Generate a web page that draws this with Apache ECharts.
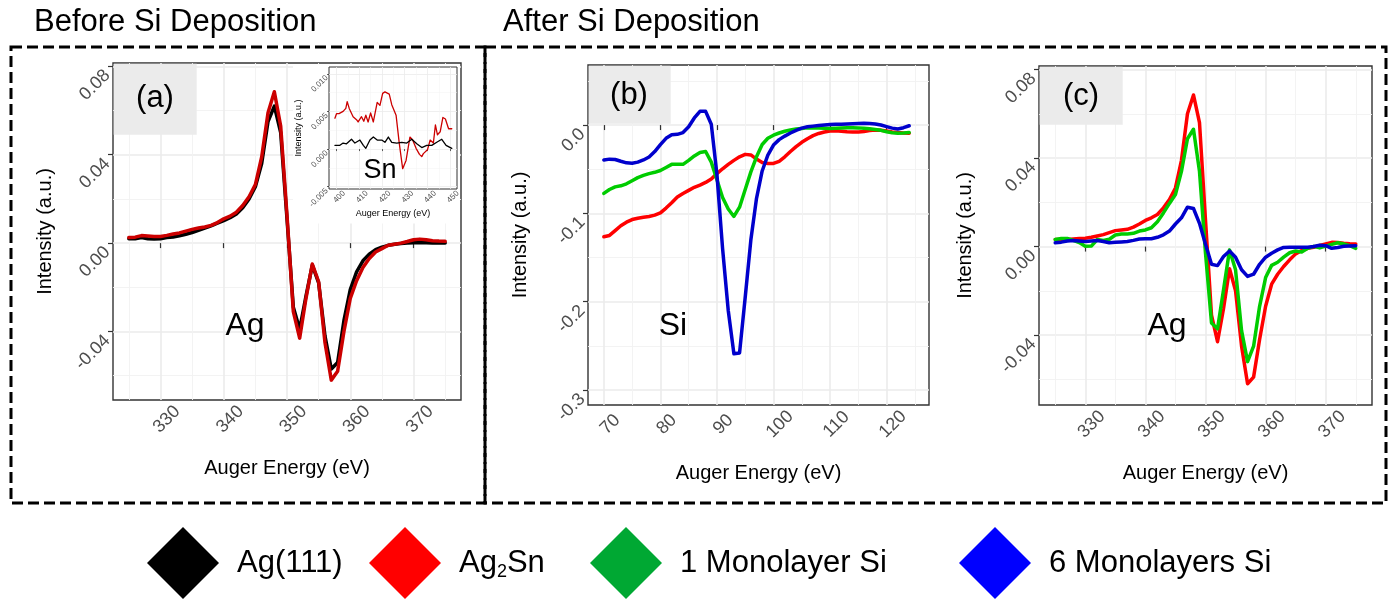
<!DOCTYPE html>
<html>
<head>
<meta charset="utf-8">
<script src="https://cdn.jsdelivr.net/npm/echarts@6/dist/echarts.min.js"></script>
<style>html,body{margin:0;padding:0;background:#fff;}#chart{width:1398px;height:600px;}</style>
</head>
<body>
<div id="chart"></div>
<script>
// ---------- DATA ----------
const energyAg = [325,326,327,328,329,330,331,332,333,334,335,336,337,338,339,340,341,342,343,344,345,346,347,348,349,350,351,352,353,354,355,356,357,358,359,360,361,362,363,364,365,366,367,368,369,370,371,372,373,374,375];
// panel (a)
const aAg111 = [0.0020,0.0020,0.0025,0.0020,0.0019,0.0020,0.0025,0.0028,0.0033,0.0040,0.0048,0.0058,0.0068,0.0078,0.0090,0.0102,0.0115,0.0132,0.0160,0.0200,0.0255,0.0360,0.0550,0.0620,0.0500,0.0110,-0.0290,-0.0390,-0.0240,-0.0100,-0.0180,-0.0420,-0.0570,-0.0540,-0.0350,-0.0210,-0.0130,-0.0080,-0.0050,-0.0030,-0.0018,-0.0010,-0.0005,-0.0002,0.0000,0.0002,0.0003,0.0002,0.0001,0.0000,0.0000];
const aAg2Sn = [0.0025,0.0027,0.0034,0.0032,0.0030,0.0030,0.0035,0.0041,0.0046,0.0054,0.0062,0.0068,0.0073,0.0080,0.0093,0.0110,0.0122,0.0140,0.0170,0.0210,0.0265,0.0390,0.0590,0.0685,0.0530,0.0125,-0.0310,-0.0430,-0.0250,-0.0095,-0.0175,-0.0450,-0.0620,-0.0580,-0.0400,-0.0250,-0.0170,-0.0110,-0.0070,-0.0040,-0.0025,-0.0010,-0.0005,0.0000,0.0007,0.0015,0.0018,0.0015,0.0011,0.0009,0.0008];
// inset (Sn)
const snEnergyAg2Sn = [399.3,400,401.1,402.9,404.1,404.7,405.6,407.3,408.8,409.5,411,412,412.9,413.9,415,416.2,417.9,419.1,420.3,421.3,423.2,424.3,426.2,427.6,429.1,430.6,432.3,433.5,435,436.5,437.5,438.2,440,441.2,442.6,443.5,444.4,445.6,446.8,447.9,449.3,450.7];
const snAg2Sn = [0.0041,0.0047,0.0047,0.0050,0.0054,0.0063,0.0054,0.0043,0.0039,0.0036,0.0043,0.0037,0.0045,0.0036,0.0048,0.0036,0.0062,0.0058,0.0074,0.0076,0.0073,0.0059,0.0045,0.0008,-0.0026,-0.0015,0.0016,0.0012,0.0001,-0.0007,-0.0010,-0.0006,-0.0001,0.0012,0.0008,0.0032,0.0019,0.0023,0.0042,0.0040,0.0027,0.0027];
const snEnergyAg111 = [399.3,401.5,402.9,404.4,406.6,408.1,410.3,411.8,412.9,414.7,416.2,417.9,419.9,421.3,422.8,424.3,426.5,428.7,430.9,433.1,435.3,437.5,439.7,441.9,444.1,446.3,448.2,450.7];
const snAg111 = [0.0005,0.0005,0.0008,0.0007,0.0013,0.0008,0.0012,0.0005,0.0001,0.0012,0.0016,0.0012,0.0012,0.0009,0.0016,0.0009,0.0008,0.0009,0.0008,0.0013,0.0007,0.0002,0.0005,0.0005,0.0009,0.0013,0.0005,0.0001];
// panel (b)
const energySi = [70,71,72,73,74,75,76,77,78,79,80,81,82,83,84,85,86,87,88,89,90,91,92,93,94,95,96,97,98,99,100,101,102,103,104,105,106,107,108,109,110,111,112,113,114,115,116,117,118,119,120,121,122,123,124];
const bAg2Sn = [-0.1265,-0.1250,-0.1195,-0.1140,-0.1100,-0.1070,-0.1055,-0.1045,-0.1035,-0.1020,-0.0995,-0.0940,-0.0880,-0.0815,-0.0775,-0.0740,-0.0705,-0.0680,-0.0650,-0.0610,-0.0550,-0.0495,-0.0445,-0.0400,-0.0360,-0.0332,-0.0338,-0.0385,-0.0425,-0.0435,-0.0435,-0.0410,-0.0360,-0.0300,-0.0245,-0.0195,-0.0155,-0.0120,-0.0095,-0.0078,-0.0068,-0.0065,-0.0070,-0.0076,-0.0079,-0.0078,-0.0072,-0.0062,-0.0057,-0.0060,-0.0068,-0.0078,-0.0085,-0.0090,-0.0093];
const b1ML = [-0.0774,-0.0730,-0.0700,-0.0688,-0.0665,-0.0630,-0.0595,-0.0570,-0.0550,-0.0535,-0.0515,-0.0480,-0.0445,-0.0445,-0.0445,-0.0400,-0.0350,-0.0310,-0.0300,-0.0420,-0.0620,-0.0820,-0.0950,-0.1035,-0.0930,-0.0730,-0.0530,-0.0360,-0.0220,-0.0150,-0.0115,-0.0090,-0.0070,-0.0056,-0.0045,-0.0038,-0.0032,-0.0030,-0.0032,-0.0035,-0.0038,-0.0036,-0.0033,-0.0031,-0.0030,-0.0032,-0.0036,-0.0042,-0.0050,-0.0060,-0.0075,-0.0088,-0.0093,-0.0090,-0.0085];
const b6ML = [-0.0396,-0.0386,-0.0390,-0.0410,-0.0428,-0.0432,-0.0420,-0.0395,-0.0362,-0.0300,-0.0222,-0.0150,-0.0110,-0.0105,-0.0085,-0.0020,0.0080,0.0155,0.0155,0.0010,-0.0560,-0.1400,-0.2100,-0.2590,-0.2580,-0.1950,-0.1300,-0.0830,-0.0520,-0.0340,-0.0227,-0.0165,-0.0125,-0.0090,-0.0060,-0.0035,-0.0020,-0.0012,-0.0005,0.0000,0.0005,0.0008,0.0010,0.0013,0.0015,0.0017,0.0019,0.0018,0.0012,0.0000,-0.0018,-0.0035,-0.0045,-0.0030,-0.0008];
// panel (c)
const cAg2Sn = [0.0032,0.0032,0.0032,0.0034,0.0036,0.0038,0.0042,0.0048,0.0054,0.0063,0.0072,0.0075,0.0078,0.0088,0.0102,0.0118,0.0130,0.0145,0.0175,0.0212,0.0265,0.0390,0.0600,0.0685,0.0560,0.0120,-0.0310,-0.0430,-0.0280,-0.0100,-0.0200,-0.0450,-0.0620,-0.0590,-0.0420,-0.0270,-0.0170,-0.0125,-0.0090,-0.0060,-0.0033,-0.0018,-0.0008,-0.0003,0.0005,0.0012,0.0019,0.0018,0.0015,0.0013,0.0012];
const c1ML = [0.0032,0.0036,0.0037,0.0028,0.0018,0.0001,0.0002,0.0032,0.0028,0.0033,0.0052,0.0057,0.0057,0.0060,0.0070,0.0075,0.0085,0.0112,0.0152,0.0195,0.0235,0.0340,0.0487,0.0530,0.0340,-0.0030,-0.0345,-0.0372,-0.0195,-0.0015,-0.0105,-0.0380,-0.0520,-0.0450,-0.0270,-0.0140,-0.0085,-0.0071,-0.0048,-0.0028,-0.0020,-0.0025,-0.0008,0.0001,-0.0006,0.0002,0.0010,0.0017,0.0012,0.0004,-0.0008];
const c6ML = [0.0017,0.0020,0.0025,0.0027,0.0025,0.0023,0.0025,0.0027,0.0023,0.0017,0.0019,0.0021,0.0023,0.0028,0.0034,0.0035,0.0035,0.0042,0.0053,0.0070,0.0102,0.0130,0.0178,0.0172,0.0105,0.0010,-0.0080,-0.0086,-0.0045,-0.0020,-0.0048,-0.0105,-0.0135,-0.0125,-0.0080,-0.0048,-0.0030,-0.0015,-0.0004,-0.0003,-0.0003,-0.0003,-0.0003,0.0000,0.0006,0.0004,-0.0008,-0.0004,0.0001,0.0003,0.0004];
// tick labels
const agTicksX = [330,340,350,360,370];
const agTicksY = [-0.04,0.00,0.04,0.08];
const agMinorX = [325,335,345,355,365,375];
const agMinorY = [-0.06,-0.02,0.02,0.06];
const siTicksX = [70,80,90,100,110,120];
const siTicksY = [-0.3,-0.2,-0.1,0.0];
const siMinorX = [75,85,95,105,115,125];
const siMinorY = [-0.25,-0.15,-0.05,0.05];
const snTicksX = [400,410,420,430,440,450];
const snTicksY = [-0.005,0.000,0.005,0.010];
const snMinorX = [405,415,425,435,445];
const snMinorY = [-0.0025,0.0025,0.0075];
const legendNames = ['Ag(111)','Ag2Sn','1 Monolayer Si','6 Monolayers Si'];

// ---------- STYLE ----------
const FONT = '"Liberation Sans", Arial, Helvetica, sans-serif';
const COL = {blk:'#000000', redA:'#CC0000', red:'#FF0000', green:'#00CC00', blue:'#0000CC'};
const LEG_COL = ['#000000','#FF0000','#00A833','#0000FF'];

function pairs(xs, ys){ return xs.map((x,i)=>[x, ys[i]]); }

function majorX(grid, min, max, ticks, dec, o){
  o = o || {};
  return {type:'value', gridIndex:grid, min:min, max:max, position:'bottom', z:o.z||0,
    axisLine:{show:false},
    axisTick:{show:true, length:o.tl||5, customValues:ticks, lineStyle:{color:'#333333', width:o.tw||1.2}},
    axisLabel:{customValues:ticks, formatter:v=>Number(v).toFixed(dec), rotate:45, align:'center', verticalAlign:'top',
      margin:o.lm||13, color:'#4D4D4D', fontSize:o.fs||18, fontFamily:FONT},
    splitLine:{show:true, lineStyle:{color:'#EBEBEB', width:o.sw||1.6}},
    name:'Auger Energy (eV)', nameLocation:'middle', nameGap:o.ng||58,
    nameTextStyle:{fontSize:o.nf||20, color:'#000', fontFamily:FONT}};
}
function majorY(grid, min, max, ticks, dec, o){
  o = o || {};
  return {type:'value', gridIndex:grid, min:min, max:max, position:'left', z:o.z||0,
    axisLine:{show:false},
    axisTick:{show:true, length:o.tl||5, customValues:ticks, lineStyle:{color:'#333333', width:o.tw||1.2}},
    axisLabel:{customValues:ticks, formatter:v=>Number(v).toFixed(dec), rotate:45, align:'right', verticalAlign:'top',
      margin:o.lm||12, color:'#4D4D4D', fontSize:o.fs||18, fontFamily:FONT},
    splitLine:{show:true, lineStyle:{color:'#EBEBEB', width:o.sw||1.6}},
    name:'Intensity (a.u.)', nameLocation:'middle', nameGap:o.ng||58,
    nameTextStyle:{fontSize:o.nf||20, color:'#000', fontFamily:FONT}};
}
function minorAxis(grid, min, max, vals, pos, o){
  o = o || {};
  return {type:'value', gridIndex:grid, min:min, max:max, position:pos, z:o.z||0,
    axisLine:{show:false}, axisTick:{show:false, customValues:vals}, axisLabel:{show:false, customValues:vals},
    splitLine:{show:true, lineStyle:{color:'#F2F2F2', width:o.sw||0.9}}};
}
function line(name, xi, yi, data, color, width, z){
  return {type:'line', name:name, xAxisIndex:xi, yAxisIndex:yi, data:data, showSymbol:false, symbol:'none',
    smooth:false, clip:true, z:z||2, silent:true,
    lineStyle:{color:color, width:width, cap:'round', join:'round'}, itemStyle:{color:color},
    emphasis:{disabled:true}};
}

const A = {x:[322.5,377.5], y:[-0.0710,0.0815]};
const B = {x:[67.2,127.5], y:[-0.317,0.068]};
const C = {x:[322.3,377.7], y:[-0.0716,0.0816]};
const S = {x:[396.7,453], y:[-0.0053,0.0109]};

function txt(t, x, y, fs){
  return {type:'text', z:11, silent:true, style:{text:t, x:x, y:y, fill:'#000', fontSize:fs, fontFamily:FONT,
    align:'center', verticalAlign:'middle', textAlign:'center', textVerticalAlign:'middle'}};
}

const option = {
  animation:false,
  backgroundColor:'#ffffff',
  textStyle:{fontFamily:FONT},
  title:[
    {text:'Before Si Deposition', left:34, top:7, padding:0, textStyle:{fontSize:31, fontWeight:'normal', color:'#000', fontFamily:FONT}},
    {text:'After Si Deposition', left:503, top:7, padding:0, textStyle:{fontSize:31, fontWeight:'normal', color:'#000', fontFamily:FONT}}
  ],
  grid:[
    {left:113, top:63, width:348, height:337, show:true, borderColor:'#333333', borderWidth:1.4, backgroundColor:'#fff', z:0, outerBoundsMode:'none', containLabel:false},
    {left:588, top:65, width:341, height:340, show:true, borderColor:'#333333', borderWidth:1.4, backgroundColor:'#fff', z:0, outerBoundsMode:'none', containLabel:false},
    {left:1039, top:66, width:333, height:339, show:true, borderColor:'#333333', borderWidth:1.4, backgroundColor:'#fff', z:0, outerBoundsMode:'none', containLabel:false},
    {left:329, top:67, width:128, height:122, show:true, borderColor:'#333333', borderWidth:1, backgroundColor:'#fff', z:6, outerBoundsMode:'none', containLabel:false}
  ],
  xAxis:[
    majorX(0, A.x[0], A.x[1], agTicksX, 0, {ng:58}),
    minorAxis(0, A.x[0], A.x[1], agMinorX, 'top'),
    majorX(1, B.x[0], B.x[1], siTicksX, 0, {ng:58}),
    minorAxis(1, B.x[0], B.x[1], siMinorX, 'top'),
    majorX(2, C.x[0], C.x[1], agTicksX, 0, {ng:58}),
    minorAxis(2, C.x[0], C.x[1], agMinorX, 'top'),
    majorX(3, S.x[0], S.x[1], snTicksX, 0, {z:7, fs:8, tl:2, tw:0.8, sw:0.8, lm:5, ng:20, nf:9}),
    minorAxis(3, S.x[0], S.x[1], snMinorX, 'top', {z:7, sw:0.5})
  ],
  yAxis:[
    majorY(0, A.y[0], A.y[1], agTicksY, 2, {ng:58}),
    minorAxis(0, A.y[0], A.y[1], agMinorY, 'right'),
    majorY(1, B.y[0], B.y[1], siTicksY, 1, {ng:58}),
    minorAxis(1, B.y[0], B.y[1], siMinorY, 'right'),
    majorY(2, C.y[0], C.y[1], agTicksY, 2, {ng:64}),
    minorAxis(2, C.y[0], C.y[1], agMinorY, 'right'),
    majorY(3, S.y[0], S.y[1], snTicksY, 3, {z:7, fs:8, tl:2, tw:0.8, sw:0.8, lm:5, ng:26, nf:9}),
    minorAxis(3, S.y[0], S.y[1], snMinorY, 'right', {z:7, sw:0.5})
  ],
  legend: legendNames.map((n,i)=>({
    left:[147,369,590,959][i], top:527, padding:0, orient:'horizontal',
    icon:'diamond', itemWidth:72, itemHeight:72, selectedMode:false,
    itemStyle:{borderWidth:0},
    data:[{name:n, icon:'diamond', itemStyle:{color:LEG_COL[i], borderWidth:0}}],
    formatter: name => name==='Ag2Sn' ? '{n|Ag}{s|2}{n|Sn}' : '{n|'+name+'}',
    textStyle:{color:'#000', fontSize:31, fontFamily:FONT, padding:[0,0,0,13],
      rich:{n:{fontSize:31, fontFamily:FONT, color:'#000', lineHeight:36},
            s:{fontSize:18, fontFamily:FONT, color:'#000', lineHeight:18, verticalAlign:'bottom'}}}
  })),
  series:[
    line('Ag(111)', 0, 0, pairs(energyAg, aAg111), COL.blk, 3.5),
    line('Ag2Sn', 0, 0, pairs(energyAg, aAg2Sn), COL.redA, 3.5),
    line('Ag2Sn', 2, 2, pairs(energySi, bAg2Sn), COL.red, 3.5),
    line('1 Monolayer Si', 2, 2, pairs(energySi, b1ML), COL.green, 3.5),
    line('6 Monolayers Si', 2, 2, pairs(energySi, b6ML), COL.blue, 3.5),
    line('Ag2Sn', 4, 4, pairs(energyAg, cAg2Sn), COL.red, 3.5),
    line('1 Monolayer Si', 4, 4, pairs(energyAg, c1ML), COL.green, 3.5),
    line('6 Monolayers Si', 4, 4, pairs(energyAg, c6ML), COL.blue, 3.5),
    line('Ag2Sn', 6, 6, pairs(snEnergyAg2Sn, snAg2Sn), COL.redA, 1.3, 8),
    line('Ag(111)', 6, 6, pairs(snEnergyAg111, snAg111), COL.blk, 1.3, 8)
  ],
  graphic:[
    {type:'rect', z:5, silent:true, shape:{x:293, y:64.5, width:167, height:159}, style:{fill:'#ffffff'}},
    {type:'rect', z:10, silent:true, shape:{x:113.7, y:63.7, width:83, height:71}, style:{fill:'#EBEBEB'}},
    {type:'rect', z:10, silent:true, shape:{x:588.7, y:65.7, width:82, height:58}, style:{fill:'#EBEBEB'}},
    {type:'rect', z:10, silent:true, shape:{x:1039.7, y:66.7, width:83, height:58}, style:{fill:'#EBEBEB'}},
    txt('(a)', 155, 98, 31),
    txt('(b)', 629, 95, 31),
    txt('(c)', 1081, 96, 31),
    txt('Ag', 245, 326, 32),
    txt('Sn', 380, 171, 27),
    txt('Si', 673, 326, 32),
    txt('Ag', 1167, 326, 32),
    {type:'rect', z:12, silent:true, shape:{x:11, y:47, width:474, height:456}, style:{fill:null, stroke:'#000', lineWidth:3, lineDash:[11,5]}},
    {type:'rect', z:12, silent:true, shape:{x:485, y:47, width:901, height:456}, style:{fill:null, stroke:'#000', lineWidth:3, lineDash:[11,5]}}
  ]
};

const chart = echarts.init(document.getElementById('chart'), null, {renderer:'canvas', width:1398, height:600});
chart.setOption(option);
</script>
</body>
</html>
